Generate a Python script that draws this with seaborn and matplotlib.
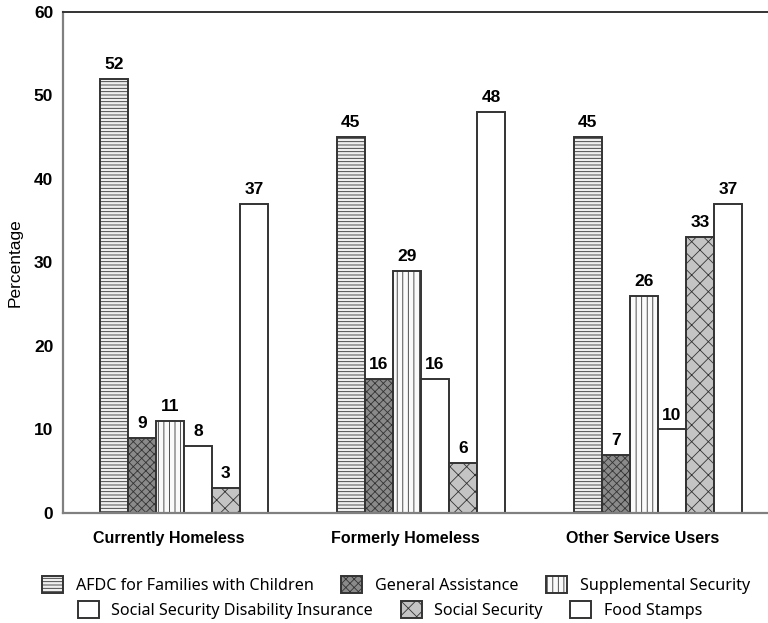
import pandas as pd
import matplotlib.pyplot as plt
import matplotlib.transforms as mtransforms
import seaborn as sns

# Data
groups = ["Currently Homeless", "Formerly Homeless", "Other Service Users"]
programs = ["AFDC for Families with Children", "General Assistance", "Supplemental Security",
            "Social Security Disability Insurance", "Social Security", "Food Stamps"]
afdc = [52, 45, 45]
general_assistance = [9, 16, 7]
supplemental_security = [11, 29, 26]
ssdi = [8, 16, 10]
social_security = [3, 6, 33]
food_stamps = [37, 48, 37]

series = [afdc, general_assistance, supplemental_security, ssdi, social_security, food_stamps]
df = pd.DataFrame({
    "group": [g for s in series for g in groups],
    "program": [p for p, s in zip(programs, series) for _ in s],
    "value": [v for s in series for v in s],
})

# grayscale fills + hatches per program
faces = ["#efefef", "#8a8a8a", "#fafafa", "white", "#c4c4c4", "white"]
hatches = ["-----", "xxxx", "|||", "", "xx", ""]
palette = dict(zip(programs, faces))

sns.set_style("white")
plt.rcParams["font.family"] = ["Liberation Sans", "DejaVu Sans"]
plt.rcParams["hatch.linewidth"] = 0.6
plt.rcParams["text.color"] = "black"
plt.rcParams["axes.labelcolor"] = "black"
plt.rcParams["xtick.color"] = "black"
plt.rcParams["ytick.color"] = "black"

fig = plt.figure(figsize=(7.68, 6.23), dpi=100)
ax = fig.add_axes([0.082, 0.1766, 0.918, 0.8044])

sns.barplot(data=df, x="group", y="value", hue="program", order=groups, hue_order=programs,
            palette=palette, saturation=1, width=0.71, legend=False,
            edgecolor="#333333", linewidth=1.4, ax=ax)

for cont, h in zip(ax.containers, hatches):
    for bar in cont:
        bar.set_hatch(h)
    ax.bar_label(cont, fmt="%d", padding=5, fontsize=12.5, fontweight="bold", color="black")

ax.set_ylim(0, 60)
ax.set_yticks(range(0, 61, 10))
ax.set_xlim(-0.51, 2.465)
ax.set_xlabel("")
ax.set_ylabel("Percentage", fontsize=12.5, labelpad=8, color="black")
ax.tick_params(axis="both", length=0)
ax.tick_params(axis="y", labelsize=12.5, pad=7)
ax.tick_params(axis="x", labelsize=11.5, pad=13)
for lbl in ax.get_yticklabels() + ax.get_xticklabels():
    lbl.set_fontweight("bold")
# category labels sit a bit left of the group centres in the original
shift = mtransforms.ScaledTranslation(-15 / 100, 0, fig.dpi_scale_trans)
for lbl in ax.get_xticklabels():
    lbl.set_transform(lbl.get_transform() + shift)

ax.spines["right"].set_visible(False)
ax.spines["left"].set_color("#808080")
ax.spines["left"].set_linewidth(1.6)
ax.spines["bottom"].set_color("#808080")
ax.spines["bottom"].set_linewidth(1.6)
ax.spines["top"].set_color("#333333")
ax.spines["top"].set_linewidth(1.4)

handles = list(ax.containers)
leg_font = {"family": "Noto Sans", "size": 11.6}
fig.legend(handles[:3], programs[:3], loc="center", bbox_to_anchor=(0.516, 0.061), ncol=3,
           frameon=False, prop=leg_font, handlelength=1.3, handleheight=1.3,
           handletextpad=0.8, columnspacing=1.7)
fig.legend(handles[3:], programs[3:], loc="center", bbox_to_anchor=(0.508, 0.021), ncol=3,
           frameon=False, prop=leg_font, handlelength=1.3, handleheight=1.3,
           handletextpad=0.8, columnspacing=1.7)

fig.savefig("out.png", dpi=100)
